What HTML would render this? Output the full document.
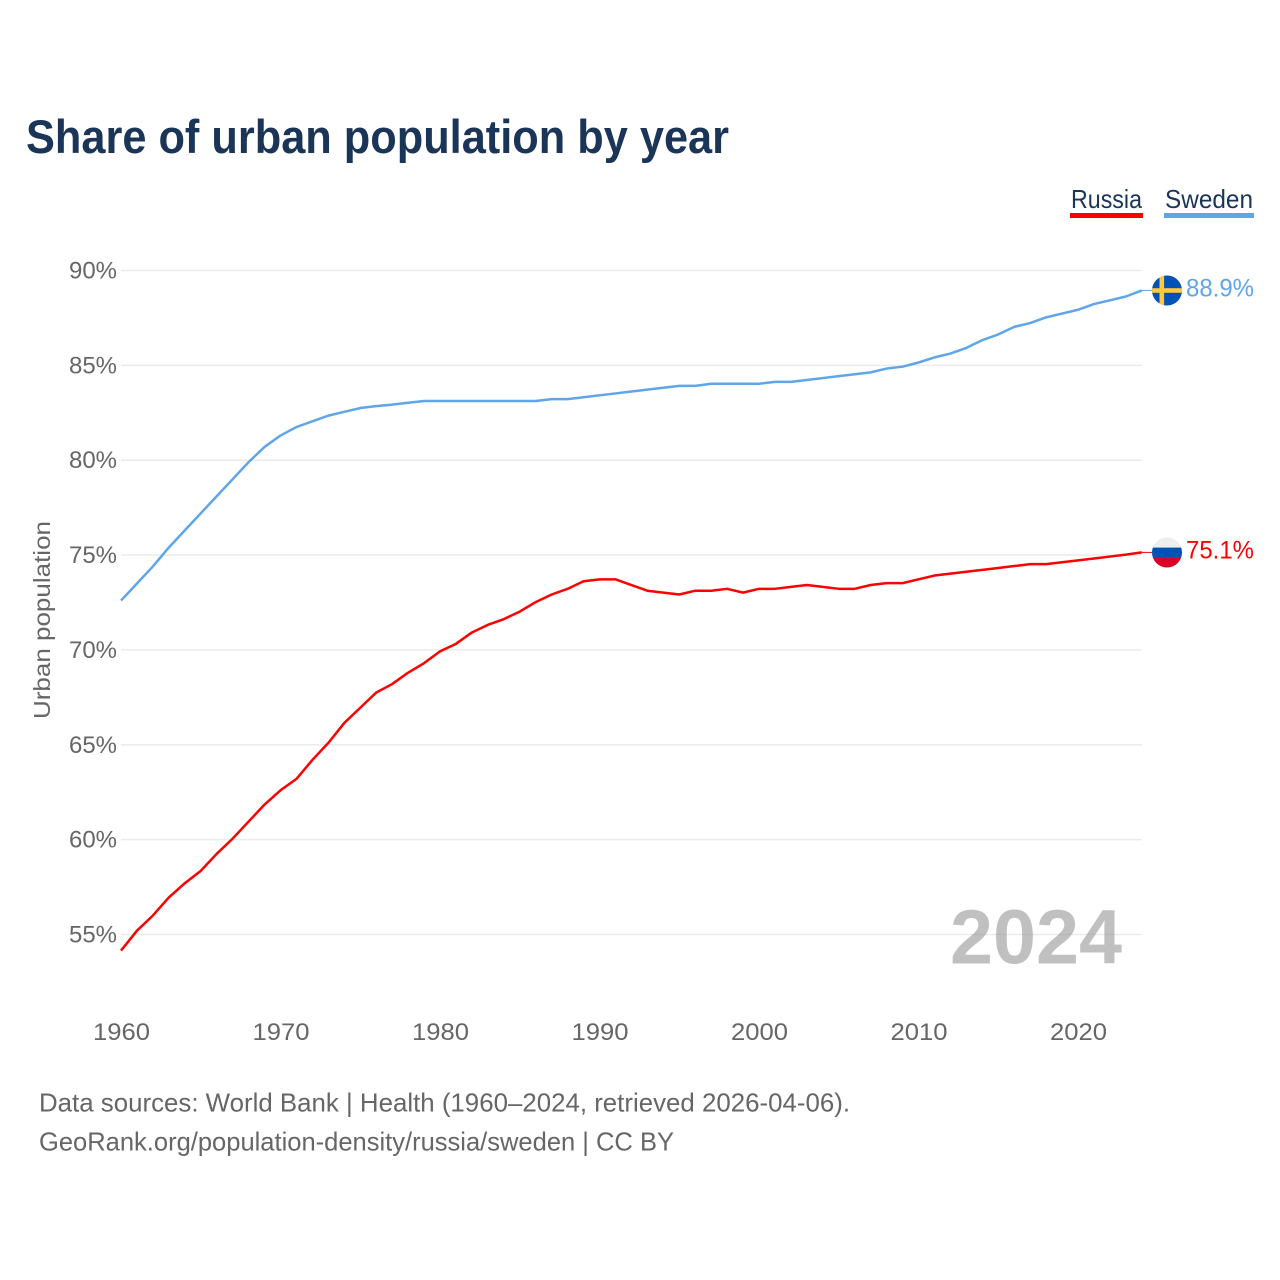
<!DOCTYPE html>
<html lang="en">
<head>
<meta charset="utf-8">
<title>Share of urban population by year</title>
<style>
html,body{margin:0;padding:0;background:#fff;}
svg{display:block;font-family:"Liberation Sans",sans-serif;}
</style>
</head>
<body>
<svg id="chart" xmlns="http://www.w3.org/2000/svg" width="1280" height="1280" viewBox="0 0 1280 1280">
  <defs>
    <clipPath id="clip-se"><circle cx="1167" cy="290.5" r="15"></circle></clipPath>
    <clipPath id="clip-ru"><circle cx="1167" cy="552.5" r="15"></circle></clipPath>
  </defs>
  <rect width="1280" height="1280" fill="#fff"></rect>
  <text x="26" y="153" font-size="47" font-weight="700" fill="#1a3557" textLength="703" lengthAdjust="spacingAndGlyphs">Share of urban population by year</text>
  <g id="grid"></g>
  <g id="yticks"></g>
  <g id="xticks"></g>
  <text transform="translate(50,620) rotate(-90)" text-anchor="middle" font-size="23.5" fill="#666" textLength="198" lengthAdjust="spacingAndGlyphs">Urban population</text>
  <text x="950" y="963.5" font-size="77" font-weight="700" fill="#8c8c8c" fill-opacity="0.55" textLength="172" lengthAdjust="spacingAndGlyphs">2024</text>
  <g id="series"></g>

  <g>
    <text x="1071" y="208" font-size="26" fill="#1a3557" textLength="71" lengthAdjust="spacingAndGlyphs">Russia</text>
    <rect x="1070" y="213" width="73" height="5" fill="#ff0000"></rect>
  </g>
  <g>
    <text x="1165" y="208" font-size="26" fill="#1a3557" textLength="88" lengthAdjust="spacingAndGlyphs">Sweden</text>
    <rect x="1164" y="213" width="90" height="5" fill="#5ea5ea"></rect>
  </g>

  <g clip-path="url(#clip-se)">
    <rect x="1152" y="275" width="30" height="31" fill="#0052b4"></rect>
    <rect x="1159.5" y="275" width="4.6" height="31" fill="#ffc83d"></rect>
    <rect x="1152" y="288.2" width="30" height="4.6" fill="#ffc83d"></rect>
  </g>
  <g clip-path="url(#clip-ru)">
    <rect x="1152" y="537" width="30" height="11" fill="#eeeeee"></rect>
    <rect x="1152" y="547.6" width="30" height="10.2" fill="#0052b4"></rect>
    <rect x="1152" y="557.6" width="30" height="11" fill="#d80027"></rect>
  </g>
  <text id="value-se" x="1186" y="296.5" font-size="25" fill="#5ea5ea" textLength="68" lengthAdjust="spacingAndGlyphs"></text>
  <text id="value-ru" x="1186" y="558.5" font-size="25" fill="#ff0000" textLength="68" lengthAdjust="spacingAndGlyphs"></text>

  <text x="39" y="1111.5" font-size="26" fill="#666" textLength="811" lengthAdjust="spacingAndGlyphs">Data sources: World Bank | Health (1960–2024, retrieved 2026-04-06).</text>
  <text x="39" y="1150.5" font-size="26" fill="#666" textLength="635" lengthAdjust="spacingAndGlyphs">GeoRank.org/population-density/russia/sweden | CC BY</text>
</svg>
<script>
const startYear = 1960;
const yTickValues = [90, 85, 80, 75, 70, 65, 60, 55];
const xTickValues = [1960, 1970, 1980, 1990, 2000, 2010, 2020];
const swedenValues = [72.6,73.5,74.4,75.4,76.3,77.2,78.1,79.0,79.9,80.7,81.3,81.75,82.05,82.35,82.55,82.75,82.85,82.93,83.03,83.12,83.12,83.12,83.12,83.12,83.12,83.12,83.12,83.22,83.22,83.32,83.42,83.52,83.62,83.72,83.82,83.92,83.92,84.03,84.03,84.03,84.03,84.13,84.13,84.23,84.33,84.43,84.53,84.63,84.83,84.93,85.15,85.42,85.62,85.92,86.33,86.63,87.03,87.23,87.53,87.73,87.93,88.23,88.43,88.63,88.95];
const russiaValues = [54.15,55.2,56.0,56.95,57.7,58.35,59.25,60.05,60.95,61.85,62.6,63.2,64.2,65.1,66.15,66.95,67.75,68.2,68.8,69.3,69.92,70.32,70.92,71.32,71.62,72.02,72.52,72.92,73.22,73.62,73.72,73.72,73.42,73.12,73.02,72.92,73.12,73.12,73.22,73.02,73.22,73.22,73.32,73.42,73.32,73.22,73.22,73.42,73.52,73.52,73.72,73.92,74.02,74.12,74.22,74.32,74.42,74.52,74.52,74.62,74.72,74.82,74.92,75.02,75.14];
const printedValues = ['88.9%', '75.1%'];

const NS = 'http://www.w3.org/2000/svg';
const xScale = function (year) { return 121 + (year - 1960) * 15.95; };
const yScale = function (v) { return 270.5 + (90 - v) * 18.97; };

const grid = document.getElementById('grid');
const yticks = document.getElementById('yticks');
yTickValues.forEach(function (v) {
  const line = document.createElementNS(NS, 'line');
  
  
  line.setAttribute('x1', 121);
  line.setAttribute('x2', 1142);
  line.setAttribute('y1', yScale(v));
  line.setAttribute('y2', yScale(v));
  line.setAttribute('stroke', '#ebebeb');
  line.setAttribute('stroke-width', '1.5');
  grid.appendChild(line);
  const t = document.createElementNS(NS, 'text');
  
  
  t.setAttribute('x', 69);
  t.setAttribute('y', yScale(v) + 8);
  t.setAttribute('font-size', '24');
  t.setAttribute('fill', '#666');
  t.setAttribute('textLength', '48');
  t.setAttribute('lengthAdjust', 'spacingAndGlyphs');
  t.textContent = v + '%';
  yticks.appendChild(t);
});

const xticks = document.getElementById('xticks');
xTickValues.forEach(function (year) {
  const t = document.createElementNS(NS, 'text');
  
  
  t.setAttribute('x', xScale(year) - 28);
  t.setAttribute('y', 1040);
  t.setAttribute('font-size', '24');
  t.setAttribute('fill', '#666');
  t.setAttribute('textLength', '57');
  t.setAttribute('lengthAdjust', 'spacingAndGlyphs');
  t.textContent = year;
  xticks.appendChild(t);
});

const seriesGroup = document.getElementById('series');
function drawSeries(values, color, name) {
  const pts = values.map(function (v, i) {
    return xScale(startYear + i).toFixed(2) + ',' + yScale(v).toFixed(2);
  });
  const p = document.createElementNS(NS, 'polyline');
  
  
  p.setAttribute('points', pts.join(' '));
  p.setAttribute('fill', 'none');
  p.setAttribute('stroke', color);
  p.setAttribute('stroke-width', '2.5');
  p.setAttribute('stroke-linejoin', 'round');
  seriesGroup.appendChild(p);
  const lastY = yScale(values[values.length - 1]);
  const c = document.createElementNS(NS, 'line');
  
  
  c.setAttribute('x1', xScale(startYear + values.length - 1));
  c.setAttribute('x2', 1153);
  c.setAttribute('y1', lastY);
  c.setAttribute('y2', lastY);
  c.setAttribute('stroke', color);
  c.setAttribute('stroke-width', '1');
  seriesGroup.appendChild(c);
}
drawSeries(swedenValues, '#5ea5ea', 'sweden-line');
drawSeries(russiaValues, '#ff0000', 'russia-line');

document.getElementById('value-se').textContent = printedValues[0];
document.getElementById('value-ru').textContent = printedValues[1];
</script>
</body>
</html>
